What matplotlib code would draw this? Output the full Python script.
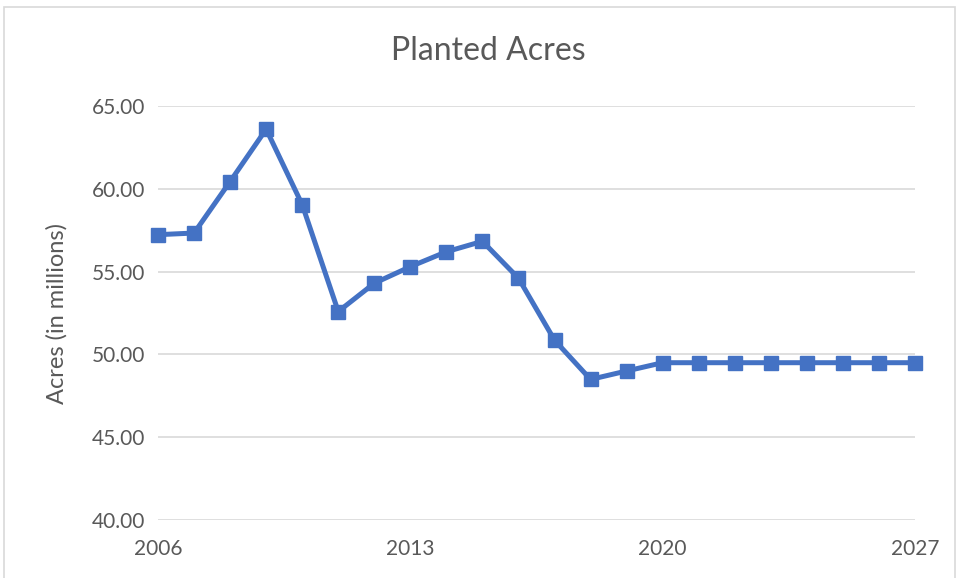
import matplotlib.pyplot as plt
from matplotlib.patches import Rectangle

plt.rcParams['font.family'] = ['Lato', 'DejaVu Sans']

years = list(range(2006, 2028))
acres = [57.23, 57.33, 60.44, 63.60, 59.04, 52.59, 54.30, 55.30, 56.20, 56.83,
         54.60, 50.86, 48.49, 49.00, 49.50, 49.50, 49.50, 49.50, 49.50, 49.50,
         49.50, 49.50]
x_ticks = [2006, 2013, 2020, 2027]
y_ticks = [40, 45, 50, 55, 60, 65]

text_color = '#595959'
grid_color = '#d9d9d9'
line_color = '#4472c4'

fig = plt.figure(figsize=(9.59, 5.78), dpi=100)
ax = fig.add_axes([0.1648, 0.1003, 0.7893, 0.7163])

# chart area border
fig.patches.append(Rectangle((0.004, -0.01), 0.992, 0.998, transform=fig.transFigure,
                             fill=False, edgecolor=grid_color, linewidth=1.2))

ax.plot(years, acres, color=line_color, linewidth=3.6, marker='s', markersize=10,
        clip_on=False, zorder=3)

ax.set_xlim(2006, 2027)
ax.set_ylim(40, 65)
ax.set_xticks(x_ticks)
ax.set_yticks(y_ticks)
ax.set_yticklabels(['%.2f' % v for v in y_ticks])
ax.grid(axis='y', color=grid_color, linewidth=1.2)
ax.set_axisbelow(True)
for s in ax.spines.values():
    s.set_visible(False)
ax.tick_params(length=0, colors=text_color, labelsize=15)
ax.tick_params(axis='x', pad=14)
ax.tick_params(axis='y', pad=9)

fig.text(0.509, 0.912, 'Planted Acres', fontsize=23, color=text_color,
         ha='center', va='center')
ax.set_ylabel('Acres (in millions)', fontsize=17, color=text_color, labelpad=18)

fig.savefig('out.png', dpi=100)
